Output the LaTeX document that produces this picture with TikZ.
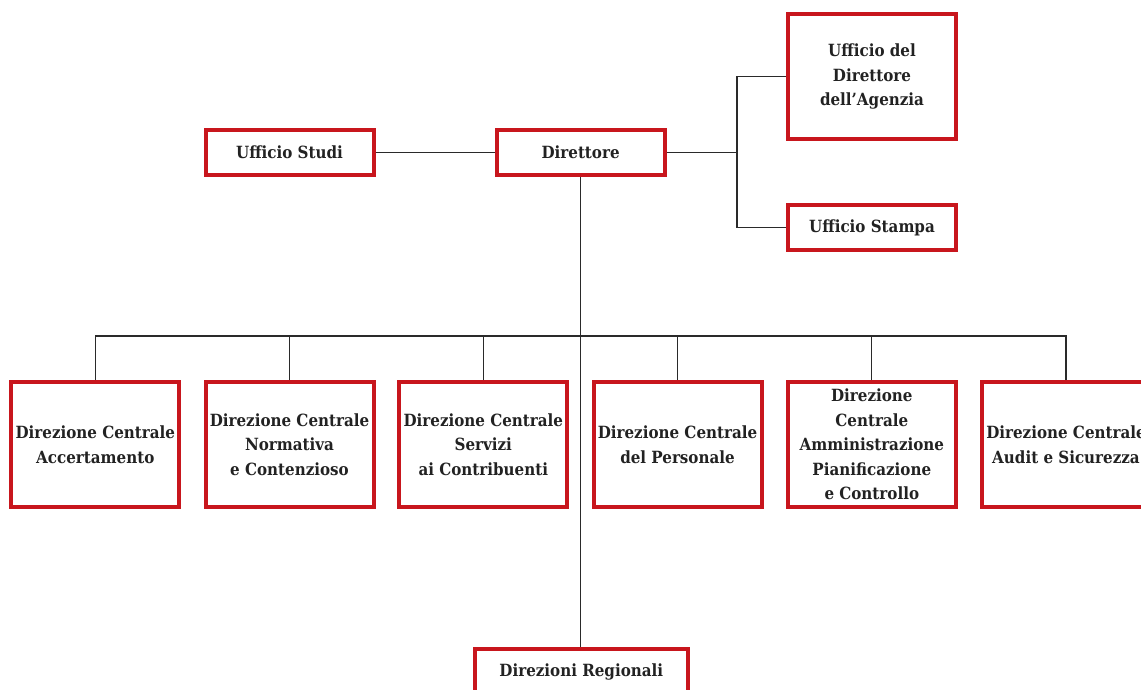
\documentclass[tikz,border=0pt]{standalone}
\usepackage{fontspec}
\setmainfont{DejaVu Serif Condensed}
\definecolor{agenziared}{HTML}{C8161D}
\definecolor{lineagray}{HTML}{2A2A2A}
\definecolor{testo}{HTML}{222222}

\begin{document}
\begin{tikzpicture}[x=0.5pt, y=-0.5pt,
    ufficio/.style={draw=agenziared, line width=2pt, fill=white, text=testo,
        minimum width=84pt, minimum height=22.5pt, align=center, inner sep=1pt,
        font=\fontsize{8.4}{12.25}\selectfont\bfseries},
    alto/.style={minimum height=62.5pt},
    linea/.style={draw=lineagray, line width=0.6pt}]
    \useasboundingbox (0,0) rectangle (1141,690);

    % Vertice
    \node[ufficio] (direttore) at (580.6,152.5) {Direttore};
    \node[ufficio] (studi) at (289.5,152.5) {Ufficio Studi};
    \node[ufficio, alto] (udir) at (872,76.5) {Ufficio del\\Direttore\\dell’Agenzia};
    \node[ufficio] (stampa) at (872,227.5) {Ufficio Stampa};

    % Direzioni centrali
    \node[ufficio, alto] (dc1) at (95.3,444.5) {Direzione Centrale\\Accertamento};
    \node[ufficio, alto] (dc2) at (289.5,444.5) {Direzione Centrale\\Normativa\\e Contenzioso};
    \node[ufficio, alto] (dc3) at (483.3,444.5) {Direzione Centrale\\Servizi\\ai Contribuenti};
    \node[ufficio, alto] (dc4) at (677.5,444.5) {Direzione Centrale\\del Personale};
    \node[ufficio, alto] (dc5) at (871.8,444.5) {Direzione\\Centrale\\Amministrazione\\Pianificazione\\e Controllo};
    \node[ufficio, alto] (dc6) at (1066,444.5) {Direzione Centrale\\Audit e Sicurezza};

    % Direzioni regionali
    \node[ufficio, minimum width=106.5pt] (regionali) at (581.3,671.5) {Direzioni Regionali};

    % Collegamenti
    \coordinate (bus) at (0,336);
    \coordinate (snodo) at (737,152.5);
    \draw[linea] (studi) -- (direttore);
    \draw[linea] (direttore) -- (snodo);
    \draw[linea] (udir.west) -| (snodo) |- (stampa.west);
    \draw[linea] (direttore.south) -- (direttore.south |- regionali.north);
    \draw[linea] (dc1.north) |- (bus -| dc6.north) -- (dc6.north);
    \foreach \i in {2,...,5}
        \draw[linea] (dc\i.north) -- (dc\i.north |- bus);
\end{tikzpicture}
\end{document}
